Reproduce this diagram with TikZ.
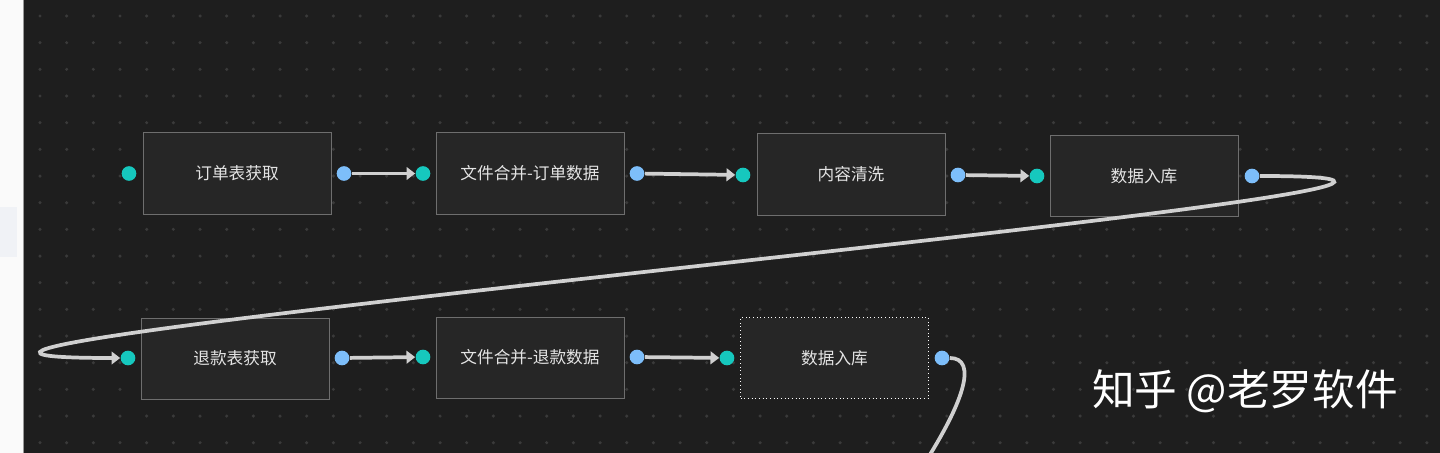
\documentclass[tikz,border=0pt]{standalone}
\usepackage{fontspec}
\newfontfamily\cjk{Noto Sans CJK SC}
\usetikzlibrary{arrows.meta}

\definecolor{canvas}{RGB}{30,30,30}
\definecolor{griddot}{RGB}{58,58,58}
\definecolor{boxfill}{RGB}{38,38,38}
\definecolor{boxline}{RGB}{110,110,110}
\definecolor{labeltext}{RGB}{228,228,228}
\definecolor{inteal}{RGB}{22,200,190}
\definecolor{outblue}{RGB}{125,190,250}
\definecolor{linkgray}{RGB}{208,208,208}
\definecolor{sidebar}{RGB}{250,250,250}
\definecolor{sidetab}{RGB}{240,242,246}

\tikzset{every picture/.style={line width=0.75pt}}
\tikzset{
  task/.style={draw=boxline, fill=boxfill, minimum width=141pt, minimum height=60.75pt,
    inner sep=0pt, text=labeltext, font=\cjk\fontsize{12.5}{14}\selectfont},
  inport/.style={circle, fill=inteal, minimum size=11pt, inner sep=0pt},
  outport/.style={circle, fill=outblue, minimum size=11pt, inner sep=0pt},
  link/.style={draw=linkgray, line width=2.8pt, -{Triangle[length=6.5pt,width=9.5pt]}},
}

\begin{document}
\begin{tikzpicture}[x=0.75pt,y=0.75pt,yscale=-1,xscale=1]
\useasboundingbox (0,0) rectangle (1440,453);
\clip (0,0) rectangle (1440,453);

%Shape: Sidebar
\fill [sidebar] (0,0) rectangle (23,453);
\fill [sidetab] (0,207) rectangle (17,257);
%Shape: Canvas
\fill [canvas] (23,0) rectangle (1440,453);
\draw [color=boxline!70] (23,0) -- (23,453);
%Shape: Dot grid
\foreach \i in {0,...,52} {
  \foreach \j in {0,...,16} {
    \fill [griddot] (40+26.67*\i,16+26.67*\j) circle (1.3pt);
  }
}

% Task Nodes, first row
\node [task] (orderget) at (237,173.5) {订单表获取};
\node [task] (ordermerge) at (530,173.5) {文件合并-订单数据};
\node [task] (clean) at (851,174.5) {内容清洗};
\node [task] (store1) at (1144,176) {数据入库};
% Task Nodes, second row
\node [task] (refundget) at (235,358.5) {退款表获取};
\node [task] (refundmerge) at (530,357.5) {文件合并-退款数据};
\node [task, draw=white, dotted] (store2) at (834.5,358) {数据入库};

% Port Nodes
\node [inport] (in1) at (129,173.5) {};
\node [outport] (out1) at (344,173.5) {};
\node [inport] (in2) at (423,173.5) {};
\node [outport] (out2) at (637,173.5) {};
\node [inport] (in3) at (743,175) {};
\node [outport] (out3) at (958,175) {};
\node [inport] (in4) at (1037,176) {};
\node [outport] (out4) at (1252,176) {};
\node [inport] (in5) at (128,358) {};
\node [outport] (out5) at (342,358) {};
\node [inport] (in6) at (423,357) {};
\node [outport] (out6) at (637,357) {};
\node [inport] (in7) at (727,358) {};
\node [outport] (out7) at (942,358) {};
\coordinate (below) at (900,500);

%Straight Lines
\draw [link] (out1) -- (in2);
\draw [link] (out2) -- (in3);
\draw [link] (out3) -- (in4);
\draw [link] (out5) -- (in6);
\draw [link] (out6) -- (in7);
%Curve Lines
\draw [link] (out4) .. controls +(500,0) and +(-500,0) .. (in5);
\draw [link, -] (out7) .. controls +(35,0) and (970,400) .. (below);

% Text Node
\node [text=white, font=\cjk\fontsize{32}{36}\selectfont] (mark) at (1245,391) {知乎 @老罗软件};

\end{tikzpicture}
\end{document}
